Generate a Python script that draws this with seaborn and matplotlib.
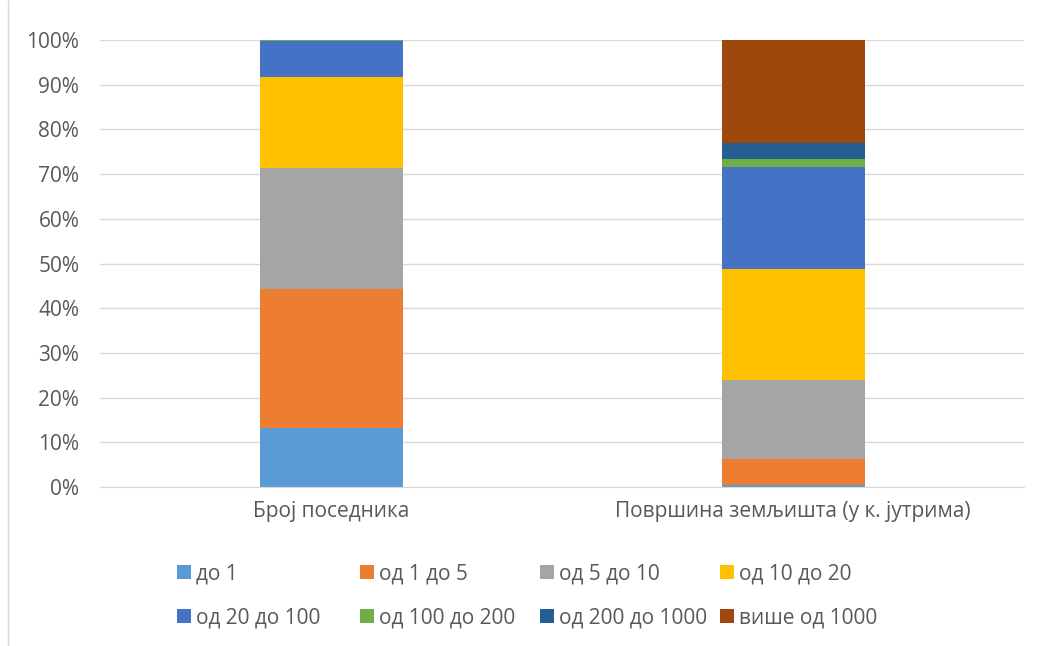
import numpy as np
import pandas as pd
import matplotlib
matplotlib.use("Agg")
import matplotlib.pyplot as plt
import seaborn as sns
from matplotlib.patches import Patch
from matplotlib.lines import Line2D

#-------
# Podaci
#-------
kategorije = ["Број поседника", "Површина земљишта (у к. јутрима)"]
grupe = ["до 1", "од 1 до 5", "од 5 до 10", "од 10 до 20",
         "од 20 до 100", "од 100 до 200", "од 200 до 1000", "више од 1000"]
broj_posednika = [13.2, 31.1, 27.1, 20.4, 8.0, 0.12, 0.05, 0.03]
povrsina = [0.4, 5.9, 17.6, 24.9, 22.9, 1.6, 3.6, 23.1]
boje = ["#5B9BD5", "#ED7D31", "#A5A5A5", "#FFC000",
        "#4472C4", "#70AD47", "#255E91", "#9E480E"]
y_ticks = [0, 10, 20, 30, 40, 50, 60, 70, 80, 90, 100]

sns.set_style("white")
plt.rcParams["font.family"] = ["Open Sans", "DejaVu Sans"]
fs = 15

fig = plt.figure(figsize=(10.43, 6.46), dpi=100)
ax = fig.add_axes([0.096, 0.246, 0.886, 0.692])

# kumulativne vrijednosti, crtamo od najviseg prema najnizem
df = pd.DataFrame({"grupa": grupe, kategorije[0]: broj_posednika, kategorije[1]: povrsina})
kum = df[kategorije].cumsum()
for i in range(len(grupe) - 1, -1, -1):
    d = pd.DataFrame({"kat": kategorije, "v": kum.iloc[i].values})
    sns.barplot(data=d, x="kat", y="v", color=boje[i], width=0.31,
                saturation=1, ax=ax, linewidth=0)

ax.set_ylim(0, 100)
ax.set_xlim(-0.5, 1.5)
ax.set_yticks(y_ticks)
ax.set_yticklabels([f"{t}%" for t in y_ticks], fontsize=fs, color="#595959")
ax.tick_params(axis="x", labelsize=fs, labelcolor="#595959", length=0, pad=10)
ax.tick_params(axis="y", length=0, pad=15)
ax.set_xlabel("")
ax.set_ylabel("")
ax.set_axisbelow(True)
ax.yaxis.grid(True, color="#D9D9D9", linewidth=1)
for s in ["top", "right", "left"]:
    ax.spines[s].set_visible(False)
ax.spines["bottom"].set_color("#D9D9D9")

# legenda: 4 kolone jednake sirine, svaka sa 2 reda
kolone_x = [177, 360, 540, 720]
for j, x in enumerate(kolone_x):
    idx = [j, j + 4]
    rucke = [Patch(facecolor=boje[i], edgecolor="none") for i in idx]
    leg = fig.legend(rucke, [grupe[i] for i in idx], loc="center left",
                     bbox_to_anchor=(x / 1043, 0.078), ncol=1,
                     frameon=False, fontsize=fs, handlelength=0.65, handleheight=0.65,
                     handletextpad=0.25, labelspacing=1.1, borderpad=0,
                     borderaxespad=0, labelcolor="#595959")

# okvir lijevo
fig.add_artist(Line2D([0.0075, 0.0075], [0, 1], transform=fig.transFigure,
                      color="#D9D9D9", linewidth=1))

fig.savefig("out.png", dpi=100)
